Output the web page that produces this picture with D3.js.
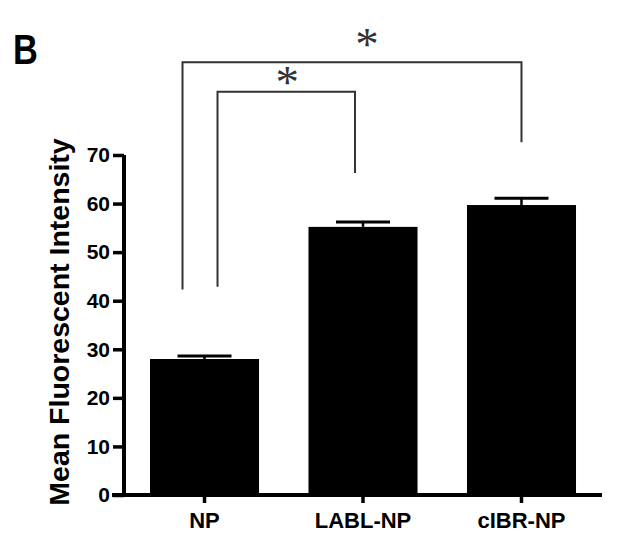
<!DOCTYPE html>
<html>
<head>
<meta charset="utf-8">
<script src="https://cdn.jsdelivr.net/npm/d3@7"></script>
<style>
  body { margin: 0; background: #fff; }
  svg { display: block; font-family: "Liberation Sans", Arial, sans-serif; }
</style>
</head>
<body>
<div class="canvas"></div>
<script>
// data
const groups = ['NP', 'LABL-NP', 'cIBR-NP'];
const means = [28.0, 55.2, 59.7];
const errors = [0.6, 1.0, 1.4];
const yTicks = [0, 10, 20, 30, 40, 50, 60, 70];

// significance brackets: [from group, to group, top value, left end value, right end value]
const bracketFrom = ['NP', 'NP'];
const bracketTo = ['cIBR-NP', 'LABL-NP'];
const bracketTop = [89.1, 83.0];
const bracketLeftEnd = [42.3, 42.9];
const bracketRightEnd = [72.6, 66.3];
const bracketMarks = ['*', '*'];

const width = 631;
const height = 546;

const svg = d3.select('.canvas')
  .append('svg')
  .attr('width', width)
  .attr('height', height);

const x = d3.scaleBand()
  .domain(groups)
  .range([124, 602])
  .paddingInner(0.312)
  .paddingOuter(0.164);

const y = d3.scaleLinear()
  .domain([0, 70])
  .range([495, 155]);

// panel letter (slightly condensed like the original)
svg.append('text')
  .text('B')
  .attr('transform', 'translate(13, 64) scale(0.8, 1)')
  .attr('font-size', 43)
  .attr('font-weight', 'bold')
  .attr('fill', '#000');

// bars
svg.selectAll('rect.bar')
  .data(groups)
  .enter()
  .append('rect')
    .attr('class', 'bar')
    .attr('x', d => x(d))
    .attr('width', x.bandwidth())
    .attr('y', (d, i) => y(means[i]))
    .attr('height', (d, i) => y(0) - y(means[i]))
    .attr('fill', '#000');

// error bars (upper only)
const errG = svg.append('g');
groups.forEach((g, i) => {
  const cx = x(g) + x.bandwidth() / 2;
  errG.append('line')
    .attr('x1', cx).attr('x2', cx)
    .attr('y1', y(means[i])).attr('y2', y(means[i] + errors[i]))
    .attr('stroke', '#000').attr('stroke-width', 2.5);
  errG.append('line')
    .attr('x1', cx - 27).attr('x2', cx + 27)
    .attr('y1', y(means[i] + errors[i])).attr('y2', y(means[i] + errors[i]))
    .attr('stroke', '#000').attr('stroke-width', 3);
});

// axes
const yAxis = d3.axisLeft(y)
  .tickValues(yTicks)
  .tickSize(11)
  .tickSizeOuter(0)
  .tickPadding(3);

const xAxis = d3.axisBottom(x)
  .tickSize(8)
  .tickSizeOuter(0)
  .tickPadding(9);

const yAxisGroup = svg.append('g')
  .attr('transform', `translate(124, 0)`)
  .call(yAxis);

const xAxisGroup = svg.append('g')
  .attr('transform', `translate(0, ${y(0)})`)
  .call(xAxis);

[yAxisGroup, xAxisGroup].forEach(g => {
  g.select('.domain').attr('stroke', '#000').attr('stroke-width', 4);
  g.selectAll('.tick line').attr('stroke', '#000').attr('stroke-width', 3.5);
  g.selectAll('.tick text')
    .attr('fill', '#000')
    .attr('font-weight', 'bold')
    .attr('font-family', '"Liberation Sans", Arial, sans-serif');
});
yAxisGroup.selectAll('.tick text').attr('font-size', 21);
xAxisGroup.selectAll('.tick text').attr('font-size', 22);
// extend domains to meet at the corner
yAxisGroup.select('.domain').attr('d', `M0,${y(70)}V${y(0) + 2}`);
xAxisGroup.select('.domain').attr('d', `M112,0H602`);

// y axis title
svg.append('text')
  .text('Mean Fluorescent Intensity')
  .attr('transform', `translate(69, 322) rotate(-90)`)
  .attr('text-anchor', 'middle')
  .attr('font-size', 28.5)
  .attr('font-weight', 'bold')
  .attr('fill', '#000');

// significance brackets
const bracketOffsetLeft = [-22, 13];
const bracketOffsetRight = [0, -8];
const markShiftX = [15, 1];
const markShiftY = [-2, 6];
bracketFrom.forEach((from, i) => {
  const x1 = x(from) + x.bandwidth() / 2 + bracketOffsetLeft[i];
  const x2 = x(bracketTo[i]) + x.bandwidth() / 2 + bracketOffsetRight[i];
  const yt = y(bracketTop[i]);
  svg.append('path')
    .attr('d', `M${x1},${y(bracketLeftEnd[i])}V${yt}H${x2}V${y(bracketRightEnd[i])}`)
    .attr('fill', 'none')
    .attr('stroke', '#333')
    .attr('stroke-width', 2);
  svg.append('text')
    .text(bracketMarks[i])
    .attr('x', (x1 + x2) / 2 + markShiftX[i])
    .attr('y', yt + markShiftY[i])
    .attr('text-anchor', 'middle')
    .attr('font-size', 47)
    .attr('font-family', '"Liberation Serif", "Times New Roman", serif')
    .attr('fill', '#333');
});
</script>
</body>
</html>
